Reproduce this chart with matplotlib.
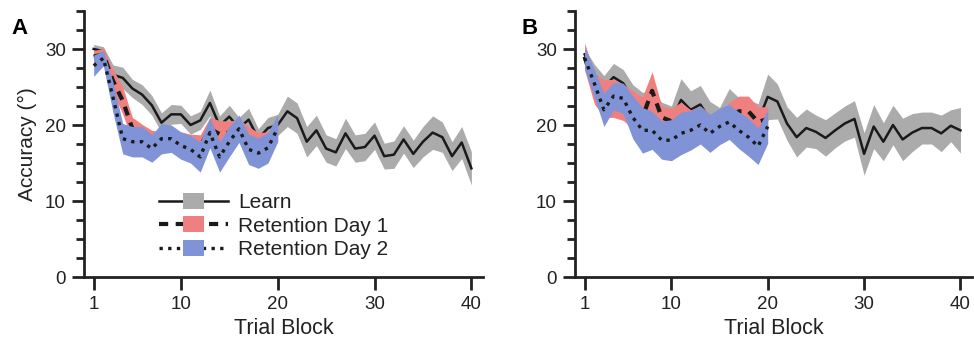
import numpy as np
import matplotlib
matplotlib.use("Agg")
import matplotlib.pyplot as plt
from matplotlib.lines import Line2D
from matplotlib.patches import Rectangle
from matplotlib.legend_handler import HandlerBase

plt.rcParams['font.family'] = ['Liberation Sans', 'DejaVu Sans']

# ---------------- data ----------------
blocks_learn = np.arange(1, 41)
blocks_ret = np.arange(1, 21)

# Panel A
a_learn_mean = [30.0, 29.7, 26.6, 26.2, 24.8, 24.0, 22.6, 20.3, 21.4, 21.4,
                20.0, 20.6, 22.9, 19.9, 21.1, 19.6, 20.7, 18.2, 19.6, 20.0,
                21.8, 20.9, 17.8, 19.3, 16.9, 16.4, 18.9, 16.9, 17.1, 18.6,
                15.9, 16.1, 18.1, 16.2, 17.8, 19.0, 18.4, 15.9, 17.7, 14.3]
a_learn_sem = [0.6, 0.6, 1.3, 1.4, 1.2, 1.3, 1.3, 1.3, 1.3, 1.2,
               1.2, 1.2, 1.7, 1.3, 1.5, 1.4, 1.5, 1.3, 1.4, 1.4,
               2.0, 2.0, 2.0, 2.0, 1.8, 1.8, 2.0, 1.8, 1.8, 1.8,
               1.7, 1.8, 1.8, 1.8, 2.0, 2.2, 2.0, 1.9, 2.1, 2.2]
a_day1_mean = [29.0, 29.3, 25.8, 23.2, 19.5, 18.8, 18.0, 17.8, 18.0, 17.8,
               17.5, 17.2, 19.5, 18.8, 19.0, 19.3, 18.3, 17.5, 17.6, 19.5]
a_day1_sem = [0.8, 0.8, 1.5, 1.8, 1.5, 1.3, 1.3, 1.3, 1.3, 1.3,
              1.3, 1.5, 1.5, 1.8, 1.5, 1.5, 1.5, 1.5, 1.5, 1.6]
a_day2_mean = [27.8, 28.8, 23.6, 18.2, 17.8, 17.8, 16.9, 18.2, 18.2, 17.3,
               16.8, 15.8, 19.0, 15.8, 17.8, 19.5, 16.8, 16.3, 17.0, 19.6]
a_day2_sem = [1.4, 1.0, 2.0, 2.0, 2.0, 2.0, 1.8, 2.0, 1.8, 1.8,
              1.8, 2.0, 2.0, 2.0, 2.0, 1.8, 2.0, 2.0, 2.0, 1.8]

# Panel B
b_learn_mean = [29.3, 26.5, 25.0, 26.3, 25.5, 23.5, 22.5, 22.5, 21.0, 20.5,
                23.3, 22.0, 22.7, 20.8, 20.0, 22.3, 21.3, 21.0, 20.5, 23.7,
                23.1, 20.2, 18.4, 19.6, 19.1, 18.3, 19.3, 20.2, 20.8, 16.2,
                19.8, 17.8, 20.0, 18.1, 19.0, 19.6, 19.6, 18.9, 19.9, 19.3]
b_learn_sem = [0.8, 1.5, 1.5, 1.8, 1.8, 1.8, 1.8, 2.0, 2.0, 2.0,
               2.8, 2.5, 2.5, 2.3, 2.3, 2.5, 2.3, 2.3, 2.3, 3.0,
               2.3, 2.2, 2.6, 2.5, 2.2, 2.4, 2.3, 2.3, 2.4, 2.8,
               2.9, 2.5, 2.6, 2.8, 2.5, 2.1, 2.1, 2.4, 2.1, 3.0]
b_day1_mean = [29.0, 24.8, 23.5, 23.5, 23.0, 22.0, 21.0, 24.5, 21.0, 20.5,
               21.0, 20.0, 20.5, 19.5, 19.5, 21.0, 21.8, 21.8, 20.4, 20.8]
b_day1_sem = [1.8, 2.0, 2.5, 2.5, 2.4, 2.5, 2.7, 2.5, 1.5, 1.7,
              2.0, 2.0, 2.0, 2.0, 1.8, 2.0, 2.0, 2.0, 2.0, 1.6]
b_day2_mean = [28.8, 25.5, 22.0, 23.8, 23.5, 21.0, 19.3, 19.3, 18.0, 18.0,
               18.9, 19.3, 20.0, 18.9, 19.8, 20.4, 19.3, 18.4, 17.2, 19.8]
b_day2_sem = [1.5, 1.8, 2.2, 1.8, 2.0, 2.8, 3.0, 2.5, 2.5, 2.7,
              2.8, 2.6, 2.5, 2.5, 2.4, 2.3, 2.4, 2.5, 2.4, 2.2]

legend_labels = ['Learn', 'Retention Day 1', 'Retention Day 2']
xticks = [1, 10, 20, 30, 40]
yticks = [0, 10, 20, 30]

# ---------------- style ----------------
GRAY = '#ABABAB'
RED = '#F08080'
BLUE = '#8093D6'
learn_kw = dict(color='#1a1a1a', lw=1.8, linestyle='-')
day1_kw = dict(color='#1a1a1a', lw=3.0, linestyle=(0, (2.2, 1.8)))
day2_kw = dict(color='#1a1a1a', lw=2.4, linestyle=(0, (1.0, 1.6)))

W, H = 974, 343
fig = plt.figure(figsize=(W / 100, H / 100), dpi=100)
fig.patch.set_facecolor('white')


def px_axes(l, r, t, b):
    return fig.add_axes([l / W, 1 - b / H, (r - l) / W, (b - t) / H])


axA = px_axes(84, 483, 11, 277)
axB = px_axes(575, 972, 11, 277)


def draw(ax, lm, ls, d1m, d1s, d2m, d2s):
    lm, ls = np.array(lm), np.array(ls)
    d1m, d1s = np.array(d1m), np.array(d1s)
    d2m, d2s = np.array(d2m), np.array(d2s)
    ax.fill_between(blocks_learn, lm - ls, lm + ls, color=GRAY, lw=0, zorder=1)
    ax.plot(blocks_learn, lm, zorder=2, **learn_kw)
    ax.fill_between(blocks_ret, d1m - d1s, d1m + d1s, color=RED, lw=0, zorder=3)
    ax.plot(blocks_ret, d1m, zorder=4, **day1_kw)
    ax.fill_between(blocks_ret, d2m - d2s, d2m + d2s, color=BLUE, lw=0, zorder=5)
    ax.plot(blocks_ret, d2m, zorder=6, **day2_kw)

    ax.set_xlim(0, 41.2)
    ax.set_ylim(0, 35)
    for s in ['top', 'right']:
        ax.spines[s].set_visible(False)
    for s in ['left', 'bottom']:
        ax.spines[s].set_linewidth(2.0)
        ax.spines[s].set_color('#222222')
    ax.set_xticks(xticks)
    ax.set_yticks(yticks)
    ax.set_yticks(np.arange(0, 35.1, 2.5), minor=True)
    ax.tick_params(axis='both', which='major', direction='out', length=9,
                   width=2, colors='#222222', labelsize=13.5, pad=4)
    ax.tick_params(axis='x', which='major', pad=5)
    ax.tick_params(axis='y', which='minor', direction='out', length=6,
                   width=2, colors='#222222')
    ax.set_xlabel('Trial Block', fontsize=15.5, color='#222222', labelpad=3)
    ax.set_facecolor('white')


draw(axA, a_learn_mean, a_learn_sem, a_day1_mean, a_day1_sem,
     a_day2_mean, a_day2_sem)
draw(axB, b_learn_mean, b_learn_sem, b_day1_mean, b_day1_sem,
     b_day2_mean, b_day2_sem)

axA.set_ylabel('Accuracy (°)', fontsize=15, color='#222222', labelpad=6)


class LineSquare:
    def __init__(self, line_kw, color):
        self.line_kw = line_kw
        self.color = color


class LineSquareHandler(HandlerBase):
    def create_artists(self, legend, orig_handle, xdescent, ydescent,
                       width, height, fontsize, trans):
        y = height / 2 - ydescent
        x0 = -xdescent
        ln = Line2D([x0, x0 + width], [y, y], transform=trans,
                    **orig_handle.line_kw)
        sw, sh = 0.31 * width, 11.5
        sq = Rectangle((x0 + width / 2 - sw / 2, y - sh / 2), sw, sh,
                       facecolor=orig_handle.color, edgecolor='none',
                       transform=trans)
        return [ln, sq]


handles = [LineSquare(learn_kw, GRAY), LineSquare(day1_kw, RED),
           LineSquare(day2_kw, BLUE)]
axA.legend(handles, legend_labels,
           handler_map={LineSquare: LineSquareHandler()},
           loc='upper left', bbox_to_anchor=((155 - 84) / (483 - 84),
                                             (277 - 189) / 266),
           frameon=False, fontsize=15, handlelength=3.3,
           handletextpad=0.5, labelspacing=0.22, borderaxespad=0,
           borderpad=0.2, labelcolor='#222222')

fig.text(20 / W, 1 - 28 / H, 'A', fontsize=16, fontweight='bold',
         ha='center', va='center')
fig.text(530 / W, 1 - 28 / H, 'B', fontsize=16, fontweight='bold',
         ha='center', va='center')

fig.savefig('out.png', dpi=100, facecolor='white')
